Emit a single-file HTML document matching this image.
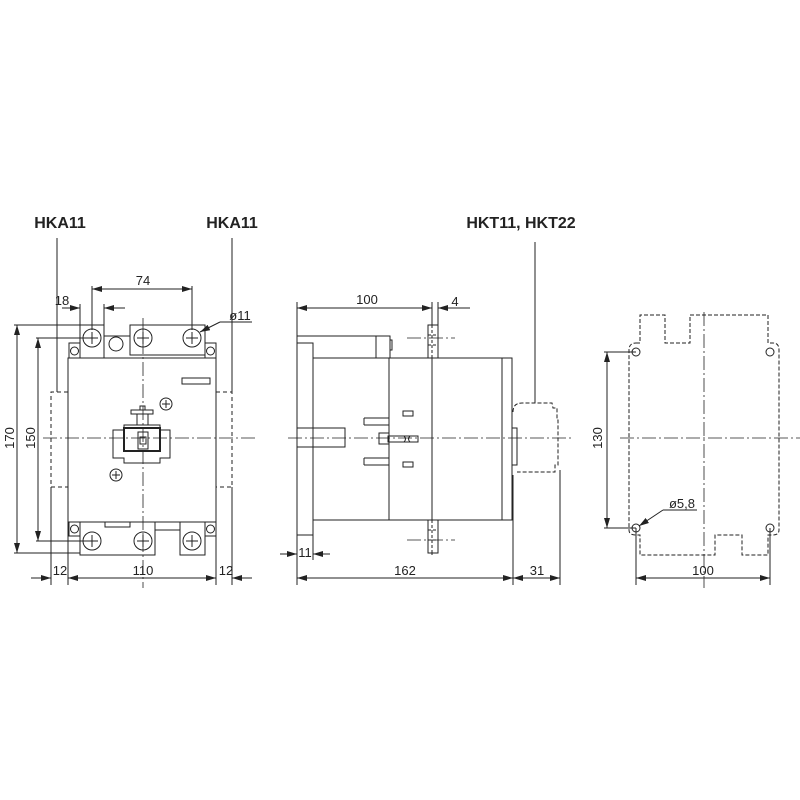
<!DOCTYPE html>
<html><head><meta charset="utf-8"><style>
html,body{margin:0;padding:0;background:#fff}
svg{display:block}
text{font-family:"Liberation Sans",sans-serif;font-size:13px;fill:#222}
.b{font-weight:bold;font-size:16px;font-stretch:condensed}
</style></head><body>
<svg width="800" height="800" viewBox="0 0 800 800" xmlns="http://www.w3.org/2000/svg">
<defs><marker id="a" viewBox="0 0 10 6" refX="10" refY="3" markerWidth="10" markerHeight="6" orient="auto-start-reverse"><path d="M0,0 L10,3 L0,6z" fill="#222"/></marker></defs>
<g stroke="#222" stroke-width="1" fill="none">
<!-- LEFT VIEW -->
<line x1="57" y1="238" x2="57" y2="392"/><line x1="232" y1="238" x2="232" y2="392"/>
<rect x="68" y="358" width="148" height="164" fill="#fff"/>
<g stroke-dasharray="4,3"><path d="M68,392H51V487H68M216,392H232V487H216"/></g>
<rect x="80" y="325" width="24" height="33"/><path d="M104,336H130M104,358H130"/><circle cx="116" cy="344" r="7"/>
<rect x="130" y="325" width="75" height="30"/>
<circle cx="92" cy="338" r="9"/><circle cx="143" cy="338" r="9"/><circle cx="192" cy="338" r="9"/>
<path d="M92,332v12M86,338h12M143,332v12M137,338h12M192,332v12M186,338h12"/>
<rect x="69" y="343" width="11" height="15"/><circle cx="74.5" cy="351" r="4"/>
<rect x="205" y="343" width="11" height="15"/><circle cx="210.5" cy="351" r="4"/>
<rect x="69" y="522" width="11" height="14"/><circle cx="74.5" cy="529" r="4"/>
<rect x="205" y="522" width="11" height="14"/><circle cx="210.5" cy="529" r="4"/>
<rect x="80" y="522" width="75" height="33"/><rect x="180" y="522" width="25" height="33"/>
<path d="M155,530H180M105,522V527H130V522"/>
<circle cx="92" cy="541" r="9"/><circle cx="143" cy="541" r="9"/><circle cx="192" cy="541" r="9"/>
<path d="M92,535v12M86,541h12M143,535v12M137,541h12M192,535v12M186,541h12"/>
<rect x="182" y="378" width="28" height="6"/>
<circle cx="166" cy="404" r="6"/><path d="M166,400v8M162,404h8"/>
<circle cx="116" cy="475" r="6"/><path d="M116,471v8M112,475h8"/>
<path d="M113,430H124V425H160V430H170V458H160V463H124V458H113Z" fill="#fff"/>
<rect x="124" y="428" width="36" height="23" stroke-width="2"/>
<rect x="138" y="432" width="10" height="17"/><rect x="140" y="437" width="6" height="7"/>
<rect x="137" y="414" width="11" height="11"/><rect x="131" y="410" width="22" height="4"/><rect x="140" y="406" width="5" height="4"/>
<g stroke-dasharray="14,3,2,3" stroke-width="0.8"><line x1="143" y1="318" x2="143" y2="588"/><line x1="43" y1="438" x2="258" y2="438"/></g>
<!-- dims left -->
<path d="M14,325H80M14,553H80M36,338H92M36,541H92"/>
<line x1="17" y1="325" x2="17" y2="553" marker-start="url(#a)" marker-end="url(#a)"/>
<line x1="38" y1="338" x2="38" y2="541" marker-start="url(#a)" marker-end="url(#a)"/>
<path d="M92,286V330M192,286V330M80,304V325M104,304V325"/>
<line x1="92" y1="289" x2="192" y2="289" marker-start="url(#a)" marker-end="url(#a)"/>
<line x1="62" y1="308" x2="80" y2="308" marker-end="url(#a)"/><line x1="125" y1="308" x2="104" y2="308" marker-end="url(#a)"/>
<line x1="220" y1="322" x2="200" y2="332" marker-end="url(#a)"/><path d="M220,322H252"/>
<path d="M51,487V585M68,522V585M216,522V585M232,487V585"/>
<line x1="68" y1="578" x2="216" y2="578" marker-start="url(#a)" marker-end="url(#a)"/>
<line x1="31" y1="578" x2="51" y2="578" marker-end="url(#a)"/><line x1="252" y1="578" x2="232" y2="578" marker-end="url(#a)"/>
<!-- MIDDLE VIEW -->
<path d="M297,336H390V358M297,343H313V358M376,336V358M390,340h2v10h-2"/>
<line x1="297" y1="302" x2="297" y2="585"/>
<rect x="313" y="358" width="199" height="162"/>
<path d="M297,535H313V520"/>
<line x1="389" y1="358" x2="389" y2="520"/><line x1="502" y1="358" x2="502" y2="520"/>
<line x1="432" y1="302" x2="432" y2="555"/><line x1="438" y1="302" x2="438" y2="358"/>
<rect x="428" y="325" width="10" height="33" fill="#fff"/><rect x="428" y="520" width="10" height="33" fill="#fff"/>
<g stroke-dasharray="3,2"><path d="M432,325V358M432,520V553M428,335h10M428,345h10M428,530h10M428,540h10"/></g>
<rect x="297" y="428" width="48" height="19"/>
<path d="M364,418H389M364,425H389M364,458H389M364,465H389M364,418v7M364,458v7"/>
<path d="M389,425V433H379V444H389V458"/>
<rect x="403" y="411" width="10" height="5"/><rect x="403" y="462" width="10" height="5"/>
<rect x="388" y="436" width="30" height="6"/><path d="M404,436q3,3 0,6M410,436q-3,3 0,6"/>
<rect x="512" y="428" width="5" height="37"/>
<path d="M513,412Q513,403 522,403H552L553,408H557V420H558V465H555V472H517" stroke-dasharray="4,2"/>
<line x1="535" y1="242" x2="535" y2="403"/>
<g stroke-dasharray="14,3,2,3" stroke-width="0.8"><line x1="288" y1="438" x2="572" y2="438"/><line x1="407" y1="338" x2="455" y2="338"/><line x1="407" y1="540" x2="455" y2="540"/></g>
<line x1="297" y1="308" x2="432" y2="308" marker-start="url(#a)" marker-end="url(#a)"/>
<line x1="456" y1="308" x2="438" y2="308" marker-end="url(#a)"/><path d="M456,308H470"/>
<line x1="280" y1="554" x2="297" y2="554" marker-end="url(#a)"/><line x1="330" y1="554" x2="313" y2="554" marker-end="url(#a)"/>
<path d="M313,535V560M513,475V585M560,470V585"/>
<line x1="297" y1="578" x2="513" y2="578" marker-start="url(#a)" marker-end="url(#a)"/>
<line x1="513" y1="578" x2="560" y2="578" marker-start="url(#a)" marker-end="url(#a)"/>
<!-- RIGHT VIEW -->
<g stroke-dasharray="4,2">
<path d="M636,343H640V315H665V343H690V315H768V343H773Q779,343 779,350V530Q779,535 773,535H768V555H742V535H715V555H640V535H636Q629,535 629,530V350Q629,343 636,343"/>
</g>
<circle cx="636" cy="352" r="4"/><circle cx="770" cy="352" r="4"/><circle cx="636" cy="528" r="4"/><circle cx="770" cy="528" r="4"/>
<g stroke-dasharray="14,3,2,3" stroke-width="0.8"><line x1="704" y1="312" x2="704" y2="588"/><line x1="620" y1="438" x2="800" y2="438"/></g>
<path d="M604,352H636M604,528H636M636,528V585M770,528V585"/>
<line x1="607" y1="352" x2="607" y2="528" marker-start="url(#a)" marker-end="url(#a)"/>
<line x1="663" y1="510" x2="639" y2="526" marker-end="url(#a)"/><path d="M663,510H697"/>
<line x1="636" y1="578" x2="770" y2="578" marker-start="url(#a)" marker-end="url(#a)"/>
</g>
<text class="b" x="60" y="228" text-anchor="middle">HKA11</text>
<text class="b" x="232" y="228" text-anchor="middle">HKA11</text>
<text class="b" x="521" y="228" text-anchor="middle">HKT11, HKT22</text>
<text x="143" y="285" text-anchor="middle">74</text>
<text x="62" y="305" text-anchor="middle">18</text>
<text x="240" y="320" text-anchor="middle">ø11</text>
<text transform="translate(14,438) rotate(-90)" text-anchor="middle">170</text>
<text transform="translate(35,438) rotate(-90)" text-anchor="middle">150</text>
<text x="60" y="575" text-anchor="middle">12</text>
<text x="143" y="575" text-anchor="middle">110</text>
<text x="226" y="575" text-anchor="middle">12</text>
<text x="367" y="304" text-anchor="middle">100</text>
<text x="455" y="306" text-anchor="middle">4</text>
<text x="305" y="557" text-anchor="middle">11</text>
<text x="405" y="575" text-anchor="middle">162</text>
<text x="537" y="575" text-anchor="middle">31</text>
<text transform="translate(602,438) rotate(-90)" text-anchor="middle">130</text>
<text x="682" y="508" text-anchor="middle">ø5,8</text>
<text x="703" y="575" text-anchor="middle">100</text>
</svg>
</body></html>
